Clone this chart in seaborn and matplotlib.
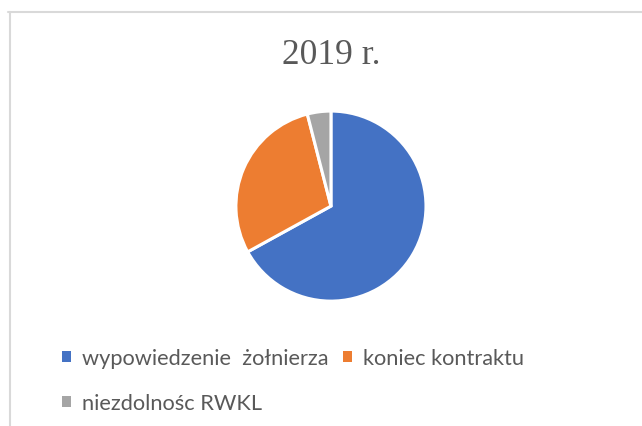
import seaborn as sns
import matplotlib.pyplot as plt
from matplotlib.patches import Patch
from matplotlib.lines import Line2D

# data
labels = ['wypowiedzenie  żołnierza', 'koniec kontraktu', 'niezdolnośc RWKL']
values = [67, 29, 4]
colors = ['#4472C4', '#ED7D31', '#A5A5A5']
title = '2019 r.'

sns.set_theme(style='white')
plt.rcParams['font.family'] = ['Lato', 'DejaVu Sans']

fig = plt.figure(figsize=(6.42, 4.27), dpi=100)
fig.patch.set_facecolor('white')

# chart frame (only top and left visible in the crop)
fig.add_artist(Line2D([8 / 642, 1], [1 - 13 / 427, 1 - 13 / 427], transform=fig.transFigure,
                      color='#d9d9d9', lw=1.5))
fig.add_artist(Line2D([9.5 / 642, 9.5 / 642], [0, 1 - 13 / 427], transform=fig.transFigure,
                      color='#d9d9d9', lw=1.5))

ax = fig.add_axes([0.366, 0.290, 0.299, 0.450])
ax.pie(values, colors=colors, startangle=90, counterclock=False,
       wedgeprops=dict(edgecolor='white', linewidth=2.2))
ax.set_xlim(-1.01, 1.01)
ax.set_ylim(-1.01, 1.01)
ax.set_aspect('equal')
ax.axis('off')

fig.text(331 / 642, 1 - 56 / 427, title, ha='center', va='center',
         fontsize=25.5, color='#595959', family=['Liberation Serif', 'DejaVu Serif'])

# legend, columns filled top to bottom
order = [0, 2, 1]
handles = [Patch(facecolor=colors[i], edgecolor='none') for i in order]
leg = fig.legend(handles, [labels[i] for i in order], ncol=2, frameon=False,
                 loc='upper left', bbox_to_anchor=(62 / 642, 1 - 349 / 427),
                 fontsize=15.7, handlelength=0.4, handleheight=0.4,
                 handletextpad=0.5, columnspacing=0.7, labelspacing=1.15,
                 borderaxespad=0, borderpad=0)
for t in leg.get_texts():
    t.set_color('#595959')

fig.savefig('out.png', dpi=100, facecolor='white')
